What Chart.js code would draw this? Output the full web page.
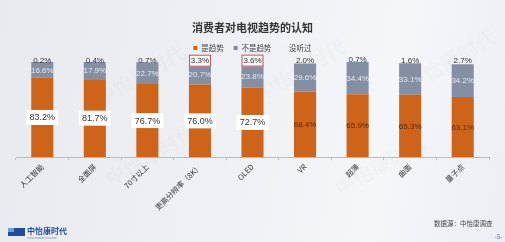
<!DOCTYPE html>
<html>
<head>
<meta charset="utf-8">
<script src="https://cdn.jsdelivr.net/npm/chart.js@4/dist/chart.umd.min.js"></script>
<style>
  html, body { margin: 0; padding: 0; }
  body {
    width: 505px; height: 242px; overflow: hidden; position: relative;
    background: linear-gradient(100deg, #e8eaee 0%, #eef0f3 45%, #f5f6f8 75%, #eceef3 100%);
    font-family: "Noto Sans CJK SC", "Noto Sans", sans-serif;
  }
  #wrap { position: absolute; left: 0; top: 0; width: 505px; height: 242px; }
  .wm { position: absolute; color: rgba(120,125,135,0.05); font-size: 20px; font-weight: bold; transform: rotate(-30deg); white-space: nowrap; }
  .logo { position: absolute; left: 8px; top: 227px; height: 12px; }
  .logo .mark { position: absolute; left: 0; top: 1px; width: 17px; height: 8px; background: #1f4e9c; }
  .logo .mark:before { content: ""; position: absolute; left: 0; top: 0; width: 6px; height: 4px; background: #6aa0d8; }
  .logo .txt { position: absolute; left: 19px; top: -2px; font-size: 8px; font-weight: bold; color: #1f4e9c; white-space: nowrap; }
  .logo .sub { position: absolute; left: 19px; top: 9px; font-size: 2.5px; color: #6b7a99; white-space: nowrap; }
  .src { position: absolute; left: 434px; top: 218px; font-size: 6.5px; color: #444; white-space: nowrap; }
  .pg { position: absolute; left: 495px; top: 232px; font-size: 6px; color: #5070b0; }
</style>
</head>
<body>
<div class="wm" style="left:90px;top:60px;">中怡康时代</div>
<div class="wm" style="left:250px;top:55px;">中怡康时代</div>
<div class="wm" style="left:400px;top:45px;">中怡康时代</div>
<div class="wm" style="left:100px;top:140px;">中怡康时代</div>
<div class="wm" style="left:330px;top:150px;">中怡康时代</div>
<div id="wrap"><canvas id="c" width="505" height="242"></canvas></div>
<div class="logo"><div class="mark"></div><div class="txt">中怡康时代</div><div class="sub">CHINA MARKET MONITOR</div></div>
<div class="src">数据源：中怡康调查</div>
<div class="pg">-5-</div>
<script>
// 消费者对电视趋势的认知
const categories = ["人工智能", "全面屏", "70寸以上", "更高分辨率（8K）", "OLED", "VR", "超薄", "曲面", "量子点"];
const isTrend = [83.2, 81.7, 76.7, 76.0, 72.7, 68.4, 65.9, 65.3, 63.1];
const notTrend = [16.6, 17.9, 22.7, 20.7, 23.8, 29.6, 34.4, 33.1, 34.2];
const neverHeard = [0.2, 0.4, 0.7, 3.3, 3.6, 2.0, 0.7, 1.6, 2.7];
const boxedMain = [0, 1, 2, 3, 4];   // 白底框的“是趋势”数值
const boxedTop = [3, 4];            // 红框标出的“没听过”数值

const ORANGE = "#cd6419";
const GRAY = "#858fa4";

// 简单的数值标签插件
const labelPlugin = {
  id: "barLabels",
  afterDatasetsDraw(chart) {
    const ctx = chart.ctx;
    ctx.save();
    ctx.textAlign = "center";
    ctx.textBaseline = "middle";
    chart.data.datasets.forEach((ds, di) => {
      const meta = chart.getDatasetMeta(di);
      meta.data.forEach((bar, i) => {
        const v = ds.data[i].toFixed(1) + "%";
        if (di === 0) {
          const y = (bar.y + bar.base) / 2;
          if (boxedMain.includes(i)) {
            ctx.fillStyle = "#ffffff";
            ctx.fillRect(bar.x - 16, y - 7.5, 32, 15);
            ctx.fillStyle = "#333333";
            ctx.font = "9px 'Liberation Sans', Arial, sans-serif";
          } else {
            ctx.fillStyle = "#5a260a";
            ctx.font = "8px 'Liberation Sans', Arial, sans-serif";
          }
          ctx.fillText(v, bar.x, y + 0.5);
        } else if (di === 1) {
          ctx.fillStyle = "#e4e8f0";
          ctx.font = "8px 'Liberation Sans', Arial, sans-serif";
          ctx.fillText(v, bar.x, (bar.y + bar.base) / 2 + 0.5);
        } else {
          const y = bar.y - 1;
          if (boxedTop.includes(i)) {
            ctx.fillStyle = "#f8f6f8";
            ctx.fillRect(bar.x - 11, y - 6, 22, 12);
            ctx.strokeStyle = "#c0505a";
            ctx.lineWidth = 1;
            ctx.strokeRect(bar.x - 11 + 0.5, y - 6 + 0.5, 21, 11);
          }
          ctx.fillStyle = "#333333";
          ctx.font = "8px 'Liberation Sans', Arial, sans-serif";
          ctx.fillText(v, bar.x, y + 0.5);
        }
      });
    });
    ctx.restore();
  }
};

new Chart(document.getElementById("c"), {
  type: "bar",
  data: {
    labels: categories,
    datasets: [
      { label: "是趋势", data: isTrend, backgroundColor: ORANGE },
      { label: "不是趋势", data: notTrend, backgroundColor: GRAY },
      { label: "没听过", data: neverHeard, backgroundColor: "#eef0f4" },
    ],
  },
  options: {
    responsive: false,
    animation: false,
    layout: { padding: { top: 21, left: 16, right: 16, bottom: 28 } },
    datasets: { bar: { barPercentage: 0.42, categoryPercentage: 1.0 } },
    plugins: {
      title: {
        display: true, text: "消费者对电视趋势的认知", color: "#333",
        font: { size: 11, weight: "bold", family: "'Noto Sans CJK SC'" },
        padding: { top: 0, bottom: 0 },
      },
      legend: {
        labels: {
          color: "#444", boxWidth: 4, boxHeight: 4, padding: 10,
          font: { size: 7.5, family: "'Noto Sans CJK SC'" },
        },
      },
      tooltip: { enabled: false },
    },
    scales: {
      x: {
        stacked: true,
        ticks: { color: "#333", font: { size: 7.5, family: "'Noto Sans CJK SC'" }, minRotation: 45, maxRotation: 45, padding: 2 },
        grid: { display: true, drawOnChartArea: false, tickLength: 3, color: "#b8bcc4", offset: true },
        border: { color: "#b8bcc4" },
      },
      y: { stacked: true, display: false, min: 0, max: 100 },
    },
  },
  plugins: [labelPlugin],
});
</script>
</body>
</html>
